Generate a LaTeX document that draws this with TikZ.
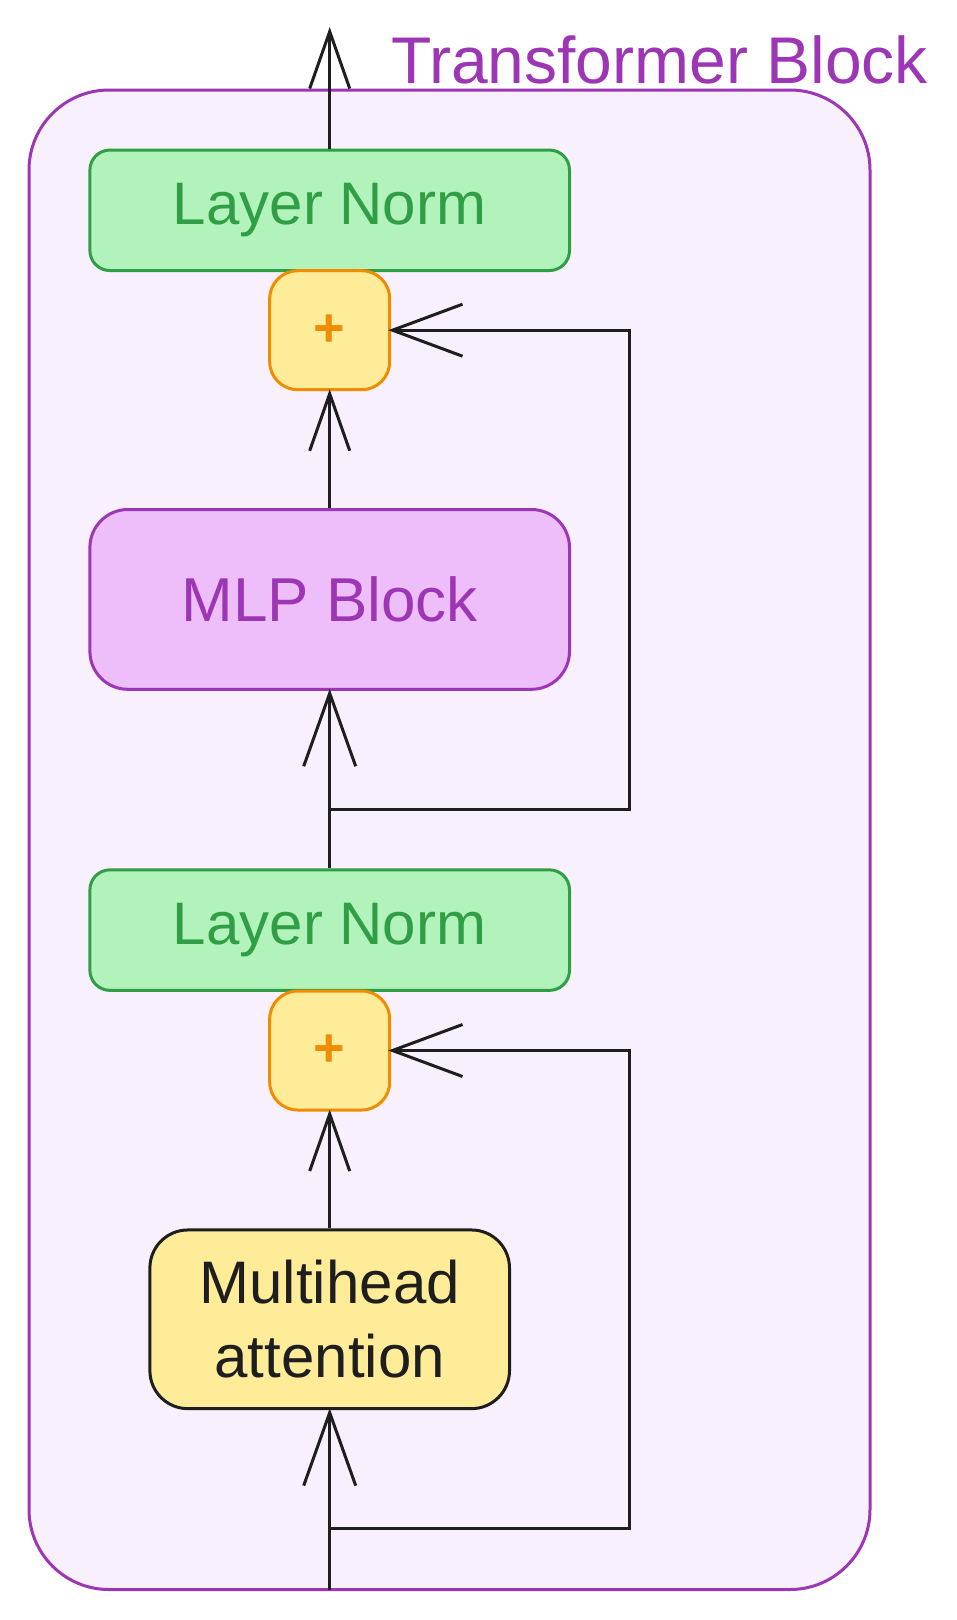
\documentclass[tikz,border=0pt]{standalone}
\usepackage{fontspec}
\setmainfont{Liberation Sans}
\usetikzlibrary{arrows.meta}
\definecolor{ink}{HTML}{1E1E1E}
\definecolor{violetS}{HTML}{9C36B5}
\definecolor{violetF}{HTML}{F8F0FC}
\definecolor{mlpF}{HTML}{EEBEFA}
\definecolor{greenS}{HTML}{2F9E44}
\definecolor{greenF}{HTML}{B2F2BB}
\definecolor{orangeS}{HTML}{F08C00}
\definecolor{yellowF}{HTML}{FFEC99}
\tikzset{
  box/.style={draw, line width=3pt, inner sep=0pt, align=center},
  lnbox/.style={box, draw=greenS, fill=greenF, text=greenS, minimum width=479.6pt, minimum height=120.5pt, rounded corners=20pt, font=\fontsize{60}{72}\selectfont},
  plusbox/.style={box, draw=orangeS, fill=yellowF, text=orangeS, minimum width=120pt, minimum height=119pt, rounded corners=28pt, font=\bfseries\fontsize{54}{60}\selectfont},
  mlpbox/.style={box, draw=violetS, fill=mlpF, text=violetS, minimum width=479.6pt, minimum height=179.8pt, rounded corners=38pt, font=\fontsize{62}{74}\selectfont},
  mhabox/.style={box, draw=ink, fill=yellowF, text=ink, minimum width=359.6pt, minimum height=178.7pt, rounded corners=38pt, font=\fontsize{60}{74}\selectfont},
  conn/.style={draw=ink, line width=3pt},
  smallarr/.style={conn, -{Straight Barb[length=57pt, width=40pt]}, shorten >=-2pt},
  bigarr/.style={conn, -{Straight Barb[length=73pt, width=52pt]}, shorten >=-2pt},
  sidearr/.style={conn, -{Straight Barb[length=70pt, width=52pt]}, shorten >=-3pt},
}
\begin{document}
\begin{tikzpicture}[x=1pt, y=-1pt]
\useasboundingbox (0,0) rectangle (956,1620);
\node[draw=violetS, fill=violetF, line width=3pt, rounded corners=80pt, minimum width=841pt, minimum height=1499.5pt, inner sep=0pt] (cont) at (449.5,839.75) {};
\node[anchor=base west, text=violetS, font=\fontsize{66}{72}\selectfont, inner sep=0pt] (title) at (391,83) {Transformer Block};

\node[lnbox] (ln1) at (329.7,210.3) {Layer Norm};
\node[plusbox] (plus1) at (329.7,330.2) {+};
\node[mlpbox] (mlp) at (329.7,599.4) {MLP Block};
\node[lnbox] (ln2) at (329.7,930.1) {Layer Norm};
\node[plusbox] (plus2) at (329.7,1050.5) {+};
\node[mhabox] (mha) at (329.7,1319.3) {Multihead\\attention};

\coordinate (out) at (329.7,29);
\coordinate (b1) at (329.7,809);
\coordinate (b1r) at (629.4,809);
\coordinate (b2) at (329.7,1528.6);
\coordinate (b2r) at (629.4,1528.6);
\coordinate (in) at (329.7,1589.5);

\draw[smallarr] (ln1.north) -- (out);
\draw[smallarr] (mlp.north) -- (plus1.south);
\draw[bigarr] (ln2.north) -- (mlp.south);
\draw[sidearr] (b1) -- (b1r) |- (plus1.east);
\draw[smallarr] (mha.north) -- (plus2.south);
\draw[bigarr] (in) -- (mha.south);
\draw[sidearr] (b2) -- (b2r) |- (plus2.east);
\end{tikzpicture}
\end{document}
